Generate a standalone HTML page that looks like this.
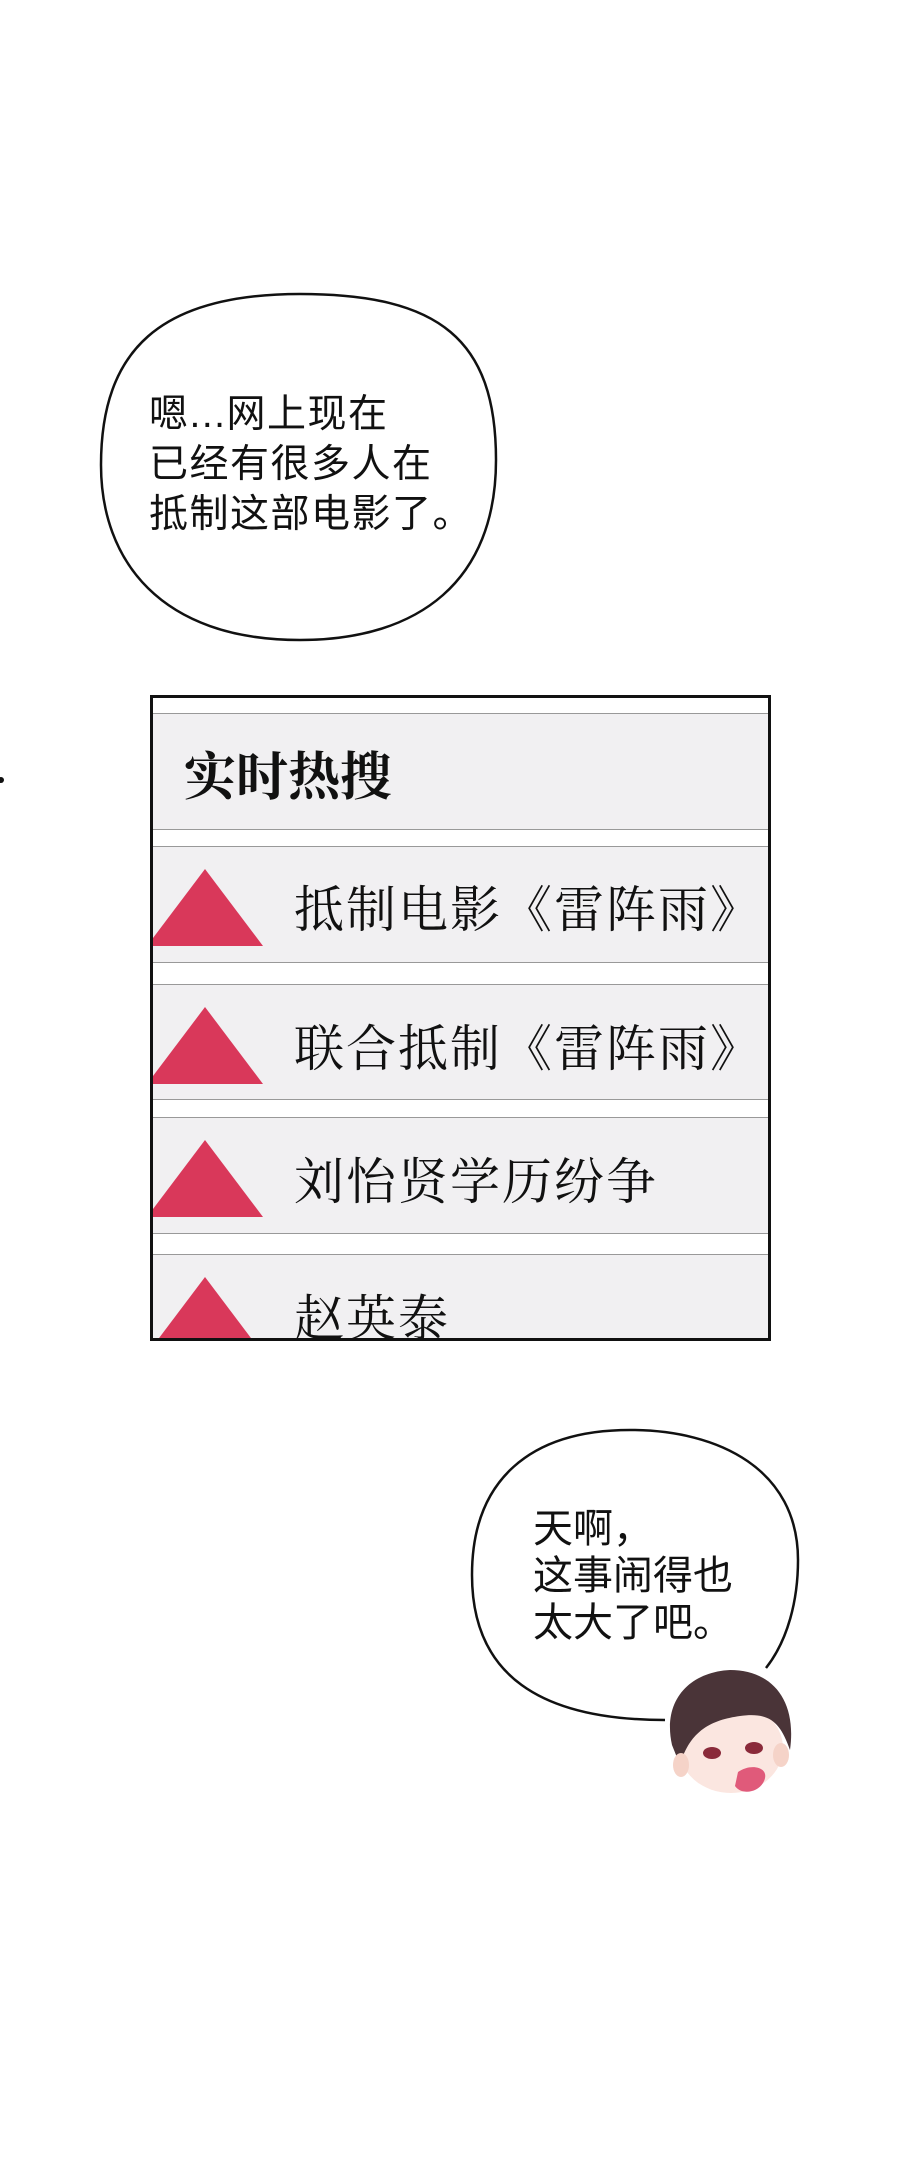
<!DOCTYPE html>
<html><head><meta charset="utf-8"><style>
body{margin:0;width:900px;height:2167px;background:#fff;position:relative;overflow:hidden;font-family:"Liberation Sans","Noto Sans CJK SC",sans-serif}
.t{position:absolute;white-space:nowrap;color:#111}
.box{position:absolute;left:150px;top:695px;width:615px;height:640px;border:3px solid #111;background:#fff;overflow:hidden}
.row{position:absolute;left:0;width:615px;background:#f1f0f2;border-top:1px solid #999;border-bottom:1px solid #999}
.tri{position:absolute;left:-6px;width:0;height:0;border-left:58px solid transparent;border-right:58px solid transparent;border-bottom:77px solid #d9385a}
.rt{position:absolute;left:141px;font-family:"Noto Serif CJK SC",serif;font-size:50px;letter-spacing:2px;color:#111;white-space:nowrap;line-height:50px}
</style></head><body>
<svg width="900" height="2167" style="position:absolute;left:0;top:0">
<path d="M300 294 C440 294 496 340 496 460 C496 580 420 640 300 640 C160 640 101 560 101 465 C101 350 160 294 300 294 Z" fill="#fff" stroke="#111" stroke-width="2.5"/>
<path d="M766 1668 C788 1640 798 1600 798 1560 C798 1470 720 1430 630 1430 C530 1430 472 1480 472 1575 C472 1675 540 1720 665 1720" fill="none" stroke="#111" stroke-width="2.5"/>
<circle cx="1" cy="780" r="3" fill="#111"/>
<g>
<ellipse cx="731" cy="1748" rx="52" ry="45" fill="#fbe6e0"/>
<path d="M672 1745 C662 1700 690 1672 730 1670 C772 1670 797 1700 790 1750 C780 1722 770 1712 740 1716 C712 1720 690 1730 680 1765 Z" fill="#4a3438"/>
<ellipse cx="681" cy="1765" rx="8" ry="12" fill="#f5d3c8"/>
<ellipse cx="781" cy="1755" rx="8" ry="12" fill="#f5d3c8"/>
<ellipse cx="712" cy="1753" rx="9" ry="6" fill="#8a2a3a"/>
<ellipse cx="754" cy="1748" rx="9" ry="6" fill="#8a2a3a"/>
<path d="M738 1772 C752 1762 772 1768 763 1783 C757 1793 741 1795 735 1786 Z" fill="#e05a7a"/>
</g>
</svg>
<div class="t" style="left:149px;top:390px;font-size:39px;letter-spacing:1.5px;line-height:50px">嗯...网上现在<br>已经有很多人在<br>抵制这部电影了。</div>
<div class="box">
<div class="row" style="top:15px;height:115px"><div class="rt" style="left:31px;top:33px;font-weight:bold;font-size:52px;letter-spacing:0;line-height:52px">实时热搜</div></div>
<div class="row" style="top:148px;height:115px"><div class="tri" style="top:22px"></div><div class="rt" style="top:34px">抵制电影《雷阵雨》</div></div>
<div class="row" style="top:286px;height:114px"><div class="tri" style="top:22px"></div><div class="rt" style="top:35px">联合抵制《雷阵雨》</div></div>
<div class="row" style="top:419px;height:115px"><div class="tri" style="top:22px"></div><div class="rt" style="top:35px">刘怡贤学历纷争</div></div>
<div class="row" style="top:556px;height:120px"><div class="tri" style="top:22px"></div><div class="rt" style="top:35px">赵英泰</div></div>
</div>
<div class="t" style="left:533px;top:1506px;font-size:40px;line-height:47px">天啊，<br>这事闹得也<br>太大了吧。</div>
</body></html>
